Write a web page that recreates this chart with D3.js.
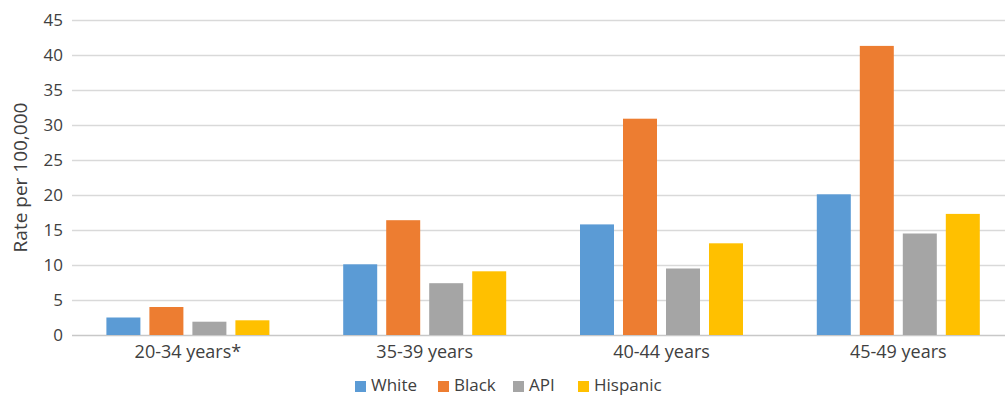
<!DOCTYPE html>
<html>
<head>
<meta charset="utf-8">
<script src="https://cdn.jsdelivr.net/npm/d3@7"></script>
<style>
  html, body { margin: 0; padding: 0; background: #fff; }
  svg { display: block; font-family: "Open Sans", "Noto Sans", sans-serif; }
</style>
</head>
<body>
<svg id="chart" width="1005" height="396"></svg>
<script>
// Age groups along the x axis
const categories = ["20-34 years*", "35-39 years", "40-44 years", "45-49 years"];
// Race / ethnicity series
const seriesNames = ["White", "Black", "API", "Hispanic"];
const seriesColors = ["#5b9bd5", "#ed7d31", "#a5a5a5", "#ffc000"];
// Rates per 100,000, one array per series, in category order
const whiteValues = [2.5, 10.1, 15.8, 20.1];
const blackValues = [4.0, 16.4, 30.9, 41.3];
const apiValues = [1.9, 7.4, 9.5, 14.5];
const hispanicValues = [2.1, 9.1, 13.1, 17.3];
const yTicks = [0, 5, 10, 15, 20, 25, 30, 35, 40, 45];
const yTitle = "Rate per 100,000";

const seriesValues = [whiteValues, blackValues, apiValues, hispanicValues];

const svg = d3.select("#chart");
const W = 1005;
const plot = { left: 72, top: 20, bottom: 335, xStart: 69.5, xEnd: 1016.7 };
const textColor = "#404040";

const y = d3.scaleLinear().domain([0, 45]).range([plot.bottom, plot.top]);
const x0 = d3.scaleBand().domain(categories).range([plot.xStart, plot.xEnd]).padding(0);
const groupWidth = 172;
const x1 = d3.scaleBand().domain(seriesNames)
  .range([0, groupWidth]).paddingInner(9 / 43).paddingOuter(4.5 / 43);

// Horizontal gridlines
svg.append("g")
  .selectAll("line")
  .data(yTicks)
  .join("line")
  .attr("x1", plot.left)
  .attr("x2", W)
  .attr("y1", d => Math.round(y(d)) + 0.5)
  .attr("y2", d => Math.round(y(d)) + 0.5)
  .attr("stroke", d => d === 0 ? "#c8c8c8" : "#d9d9d9")
  .attr("stroke-width", 1.5);

// Y axis tick labels
const yAxis = d3.axisLeft(y).tickValues(yTicks).tickSize(0).tickPadding(0);
const gy = svg.append("g").attr("transform", `translate(63,0)`).call(yAxis);
gy.select(".domain").remove();
gy.selectAll("text")
  .attr("fill", textColor)
  .style("font-size", "17px")
  .style("font-family", "'Open Sans', sans-serif");

// Y axis title
svg.append("text")
  .attr("transform", `translate(27,${(plot.top + plot.bottom) / 2}) rotate(-90)`)
  .attr("text-anchor", "middle")
  .attr("fill", textColor)
  .style("font-size", "19px")
  .text(yTitle);

// Bars
const groups = svg.append("g")
  .selectAll("g")
  .data(categories)
  .join("g")
  .attr("transform", d => `translate(${x0(d) + (x0.bandwidth() - groupWidth) / 2},0)`);

groups.selectAll("rect")
  .data((c, ci) => seriesNames.map((s, si) => ({ s, si, v: seriesValues[si][ci] })))
  .join("rect")
  .attr("x", d => x1(d.s))
  .attr("width", x1.bandwidth())
  .attr("y", d => y(d.v))
  .attr("height", d => y(0) - y(d.v))
  .attr("fill", d => seriesColors[d.si]);

// X axis category labels
const xAxis = d3.axisBottom(x0).tickSize(0).tickPadding(0);
const gx = svg.append("g").attr("transform", `translate(0,345)`).call(xAxis);
gx.select(".domain").remove();
gx.selectAll("text")
  .attr("fill", textColor)
  .style("font-size", "18px")
  .style("font-family", "'Open Sans', sans-serif");

// Legend
const legendX = [355, 438, 513, 578];
const legend = svg.append("g")
  .selectAll("g")
  .data(seriesNames)
  .join("g")
  .attr("transform", (d, i) => `translate(${legendX[i]},0)`);
legend.append("rect")
  .attr("x", 0).attr("y", 381)
  .attr("width", 11).attr("height", 11)
  .attr("fill", (d, i) => seriesColors[i]);
legend.append("text")
  .attr("x", 16).attr("y", 391)
  .attr("fill", textColor)
  .style("font-size", "17px")
  .text(d => d);
</script>
</body>
</html>
